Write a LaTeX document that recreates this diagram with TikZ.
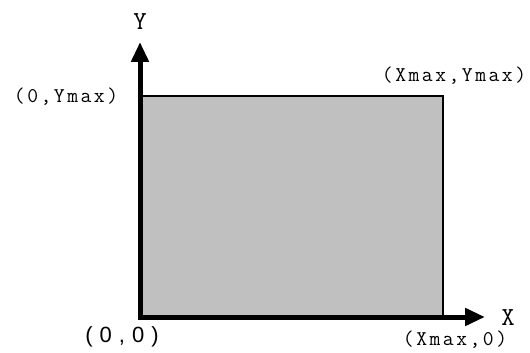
\documentclass[tikz,border=0pt]{standalone}
\usepackage{fontspec}
\usepackage{tikz}
\usetikzlibrary{positioning,arrows.meta}
\newfontfamily\cour[LetterSpace=12]{Latin Modern Mono}
\newfontfamily\courbig{Latin Modern Mono}
\newfontfamily\helv[LetterSpace=32]{Liberation Sans}
\definecolor{areac}{HTML}{C0C0C0}
\tikzset{
  axis/.style={line width=5pt, line join=miter,
    -{Triangle[length=20pt,width=17pt]}},
  lbl/.style={inner sep=0pt, font=\fontsize{21}{21}\cour},
  axlbl/.style={inner sep=0pt, font=\fontsize{26}{26}\courbig}}

\begin{document}
\begin{tikzpicture}[x=1pt, y=-1pt]
  \useasboundingbox (0,0) rectangle (530,353);
  \coordinate (orig) at (140,317);
  \coordinate (ymax) at (140,96);
  \coordinate (xmax) at (443,317);
  \coordinate (xymax) at (443,96);
  \coordinate (ytip) at (140,42);
  \coordinate (xtip) at (485,317);
  % shaded area
  \draw[fill=areac, line width=1.5pt] (orig) rectangle (xymax);
  % axes
  \draw[axis] (orig) -- (ytip);
  \draw[axis] (orig) -- (xtip);
  \fill (orig) ++(-2.5,2.5) rectangle ++(5,-5);
  \node[axlbl] (ylab) at (140,22) {Y};
  \node[axlbl] (xlab) at (508,318) {X};
  \node[lbl] (lymax) at (66,97) {(0,Ymax)};
  \node[lbl] (lxymax) at (454,76) {(Xmax,Ymax)};
  \node[lbl] (lxmax) at (455,340) {(Xmax,0)};
  \node[inner sep=0pt, font=\fontsize{22}{22}\helv] (lorig) at (122,337) {(0,0)};
\end{tikzpicture}
\end{document}
